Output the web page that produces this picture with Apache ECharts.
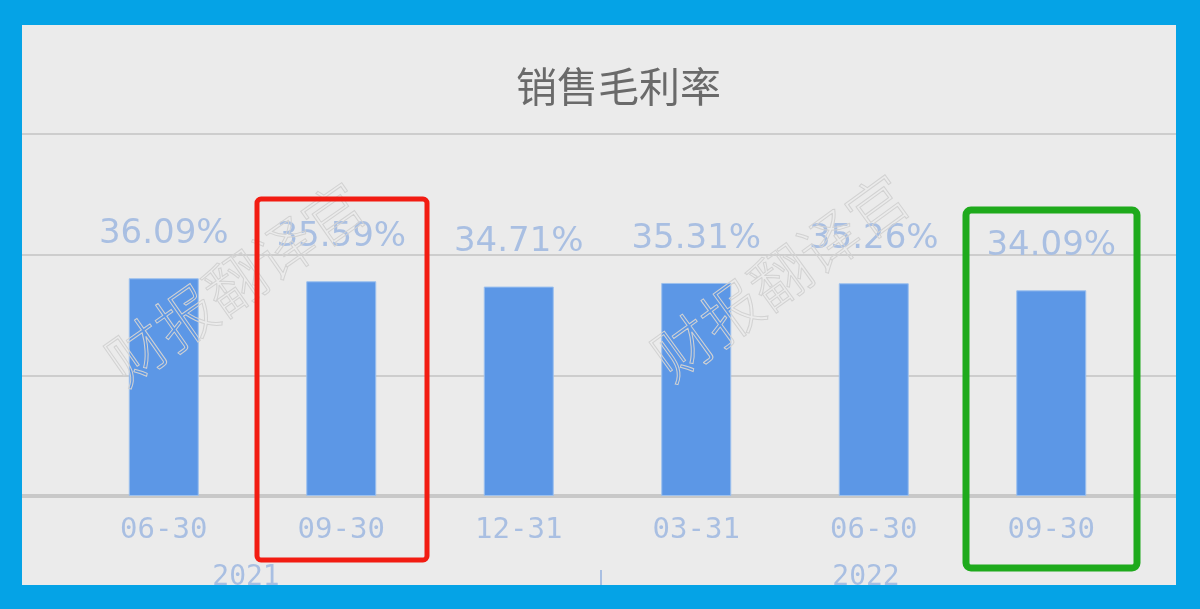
<!DOCTYPE html>
<html>
<head>
<meta charset="utf-8">
<script src="https://cdn.jsdelivr.net/npm/echarts@6/dist/echarts.min.js"></script>
<style>
  html, body { margin: 0; padding: 0; }
  body { width: 1200px; height: 609px; background: #05a3e6; position: relative; overflow: hidden; }
  #panel { position: absolute; left: 22px; top: 25px; width: 1154px; height: 560px; background: #ebebeb; }
  #chart { width: 1154px; height: 560px; }
</style>
</head>
<body>
<div id="panel"><div id="chart"></div></div>
<script>
const categories = ['2021-06-30', '2021-09-30', '2021-12-31', '2022-03-31', '2022-06-30', '2022-09-30'];
const grossMargin = [36.09, 35.59, 34.71, 35.31, 35.26, 34.09];
const yearLabels = ['2021', '2022'];
const titleText = '销售毛利率';
const watermarkText = '财报翻译官';

const chart = echarts.init(document.getElementById('chart'), null, { renderer: 'canvas' });

const labelColor = '#a9bfe2';
const option = {
  backgroundColor: '#ebebeb',
  animation: false,
  title: {
    text: titleText,
    left: 489,
    top: 36,
    textStyle: { fontFamily: 'Noto Sans CJK SC', fontSize: 41, fontWeight: 'normal', color: '#6a6a6a' }
  },
  grid: [
    { left: 0, right: 0, top: 109, bottom: 89 },
    { left: 53, right: 36, top: 109, bottom: 89 }
  ],
  xAxis: [
    {
      gridIndex: 0, type: 'category', data: categories,
      axisLine: { show: true, lineStyle: { color: '#c8c8c8', width: 4 } },
      axisTick: { show: false }, axisLabel: { show: false }
    },
    {
      gridIndex: 1, type: 'category', data: categories,
      axisLine: { show: false }, axisTick: { show: false },
      axisLabel: {
        margin: 20,
        fontFamily: 'DejaVu Sans Mono', fontSize: 29, color: labelColor,
        formatter: v => v.slice(5)
      }
    }
  ],
  yAxis: [
    {
      gridIndex: 0, type: 'value', min: 0, max: 60, interval: 20,
      axisLine: { show: false }, axisTick: { show: false }, axisLabel: { show: false },
      splitLine: { show: true, lineStyle: { color: '#cdcdcd', width: 2 } }
    },
    {
      gridIndex: 1, type: 'value', min: 0, max: 60, interval: 20,
      axisLine: { show: false }, axisTick: { show: false }, axisLabel: { show: false },
      splitLine: { show: false }
    }
  ],
  series: [
    {
      type: 'bar', xAxisIndex: 1, yAxisIndex: 1,
      data: grossMargin,
      barWidth: 70,
      itemStyle: { color: '#5c97e6', borderColor: '#9cc0ee', borderWidth: 1 },
      label: {
        show: true, position: 'top', distance: 27,
        fontFamily: 'DejaVu Sans', fontSize: 34, color: labelColor,
        formatter: p => p.value.toFixed(2) + '%'
      },
      z: 3
    }
  ],
  graphic: [
    {
      type: 'text', x: 213, y: 258, rotation: Math.PI * 35 / 180, z: 10, silent: true,
      style: { text: watermarkText, font: '300 60px "Noto Sans CJK SC"', fill: 'rgba(0,0,0,0)', stroke: '#d2d2d2', lineWidth: 1, align: 'center', verticalAlign: 'middle' }
    },
    {
      type: 'text', x: 758, y: 252, rotation: Math.PI * 36 / 180, z: 10, silent: true,
      style: { text: watermarkText, font: '300 60px "Noto Sans CJK SC"', fill: 'rgba(0,0,0,0)', stroke: '#d2d2d2', lineWidth: 1, align: 'center', verticalAlign: 'middle' }
    },
    {
      type: 'rect', z: 20, silent: true,
      shape: { x: 235, y: 174, width: 170, height: 361, r: 4 },
      style: { fill: 'none', stroke: '#f21c12', lineWidth: 5 }
    },
    {
      type: 'rect', z: 20, silent: true,
      shape: { x: 944, y: 185, width: 171, height: 358, r: 5 },
      style: { fill: 'none', stroke: '#1eaa1c', lineWidth: 7 }
    },
    {
      type: 'text', x: 224, y: 553, z: 5,
      style: { text: yearLabels[0], font: '28px "DejaVu Sans Mono"', fill: labelColor, align: 'center', verticalAlign: 'middle' }
    },
    {
      type: 'text', x: 844, y: 553, z: 5,
      style: { text: yearLabels[1], font: '28px "DejaVu Sans Mono"', fill: labelColor, align: 'center', verticalAlign: 'middle' }
    },
    {
      type: 'line', z: 5,
      shape: { x1: 579, y1: 545, x2: 579, y2: 560 },
      style: { stroke: labelColor, lineWidth: 2 }
    }
  ]
};
chart.setOption(option);
</script>
</body>
</html>
